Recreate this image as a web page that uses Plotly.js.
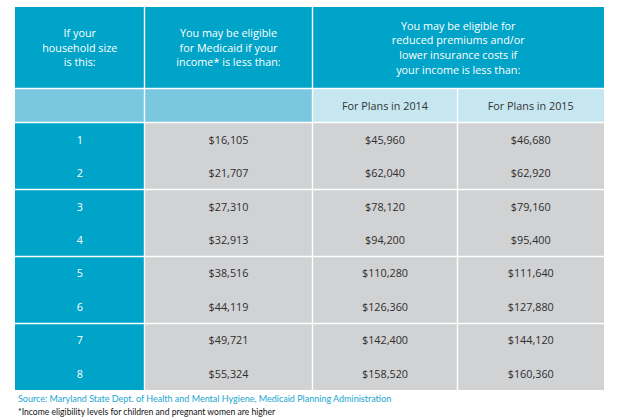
<!DOCTYPE html>
<html><head><meta charset="utf-8">
<script src="https://cdn.plot.ly/plotly-3.0.1.min.js"></script>
<style>html,body{margin:0;padding:0;background:#fff;}#chart{width:618px;height:418px;}</style>
</head><body><div id="chart"></div>
<script>
// ---- data ----
const householdSizes = ['1','2','3','4','5','6','7','8'];
const medicaidLimits = [16105, 21707, 27310, 32913, 38516, 44119, 49721, 55324];
const plans2014 = [45960, 62040, 78120, 94200, 110280, 126360, 142400, 158520];
const plans2015 = [46680, 62920, 79160, 95400, 111640, 127880, 144120, 160360];
const headerCol1 = ['If your', 'household size', 'is this:'];
const headerCol2 = ['You may be eligible', 'for Medicaid if your', 'income* is less than:'];
const headerCol34 = ['You may be eligible for', 'reduced premiums and/or', 'lower insurance costs if', 'your income is less than:'];
const subHeaders = ['For Plans in 2014', 'For Plans in 2015'];
const sourceText = 'Source: Maryland State Dept. of Health and Mental Hygiene, Medicaid Planning Administration';
const footnoteText = '*Income eligibility levels for children and pregnant women are higher';

// ---- layout geometry (pixel space) ----
const colEdges = [15, 144.5, 312.5, 457.5, 604];
const rowEdges = [7, 88.5, 122.5, 189.5, 256.5, 323.5, 390];
const g = 0.7;
const TEAL = 'rgb(0,164,200)', LIGHT = 'rgb(122,200,224)', PALE = 'rgb(198,230,240)', GRAY = 'rgb(209,210,212)';
const FONT = '"Open Sans", "Noto Sans", sans-serif';
const NOTEFONT = 'Lato, "Open Sans", sans-serif';

const shapes = [];
function rect(x0, x1, y0, y1, color) {
  shapes.push({type:'rect', xref:'x', yref:'y', x0:x0+g, x1:x1-g, y0:y0+g, y1:y1-g, fillcolor:color, line:{width:0}, layer:'below'});
}
// header row 1
rect(colEdges[0]-g, colEdges[1], rowEdges[0]-g, rowEdges[1], TEAL);
rect(colEdges[1], colEdges[2], rowEdges[0]-g, rowEdges[1], TEAL);
rect(colEdges[2], colEdges[4]+g, rowEdges[0]-g, rowEdges[1], TEAL);
// header row 2
rect(colEdges[0]-g, colEdges[1], rowEdges[1], rowEdges[2], LIGHT);
rect(colEdges[1], colEdges[2], rowEdges[1], rowEdges[2], LIGHT);
rect(colEdges[2], colEdges[3], rowEdges[1], rowEdges[2], PALE);
rect(colEdges[3], colEdges[4]+g, rowEdges[1], rowEdges[2], PALE);
// data blocks (pairs of rows)
for (let b = 0; b < 4; b++) {
  const y0 = rowEdges[2+b], y1 = rowEdges[3+b] + (b === 3 ? g : 0);
  rect(colEdges[0]-g, colEdges[1], y0, y1, TEAL);
  for (let c = 1; c < 4; c++) rect(colEdges[c], colEdges[c+1] + (c === 3 ? g : 0), y0, y1, GRAY);
}

const fmt = v => '$' + v.toLocaleString('en-US');
const center = c => (colEdges[c] + colEdges[c+1]) / 2;
const rowH = (rowEdges[6] - rowEdges[2]) / householdSizes.length;
const rowY = householdSizes.map((_, i) => rowEdges[2] + rowH * (i + 0.5) + 1.8);
const LINE = 14.6, HEAD_MID = 49;
const headLines = (lines, x) => lines.map((t, i) => ({x: x, y: HEAD_MID + (i - (lines.length - 1) / 2) * LINE, t: t}));
const headerItems = [].concat(
  headLines(headerCol1, center(0)),
  headLines(headerCol2, center(1)),
  headLines(headerCol34, (colEdges[2] + colEdges[4]) / 2)
);

function textTrace(xs, ys, texts, color, size) {
  return {type:'scatter', mode:'text', x:xs, y:ys, text:texts, textposition:'middle center',
    textfont:{family:FONT, size:size, color:color}, hoverinfo:'skip', showlegend:false, cliponaxis:false};
}
const traces = [
  textTrace(headerItems.map(h => h.x), headerItems.map(h => h.y), headerItems.map(h => h.t), '#ffffff', 10.8),
  textTrace([center(2), center(3)], [107, 107], subHeaders, '#333333', 10.8),
  textTrace(rowY.map(() => center(0)), rowY, householdSizes, '#ffffff', 10.8),
  textTrace(rowY.map(() => center(1)), rowY, medicaidLimits.map(fmt), '#2e2e2e', 10.8),
  textTrace(rowY.map(() => center(2)), rowY, plans2014.map(fmt), '#2e2e2e', 10.8),
  textTrace(rowY.map(() => center(3)), rowY, plans2015.map(fmt), '#2e2e2e', 10.8)
];

const layout = {
  width:618, height:418, margin:{l:0, r:0, t:0, b:0},
  paper_bgcolor:'#ffffff', plot_bgcolor:'#ffffff',
  xaxis:{range:[0,618], visible:false, fixedrange:true},
  yaxis:{range:[418,0], visible:false, fixedrange:true},
  shapes:shapes,
  annotations:[
    {xref:'x', yref:'y', x:16, y:398, text:sourceText, showarrow:false, xanchor:'left', yanchor:'middle',
     font:{family:NOTEFONT, size:9, color:'rgb(26,166,208)'}},
    {xref:'x', yref:'y', x:16, y:412, text:footnoteText, showarrow:false, xanchor:'left', yanchor:'middle',
     font:{family:NOTEFONT, size:8.6, color:'#111111'}}
  ],
  showlegend:false
};
Plotly.newPlot('chart', traces, layout, {displayModeBar:false, staticPlot:true});
</script>
</body></html>
